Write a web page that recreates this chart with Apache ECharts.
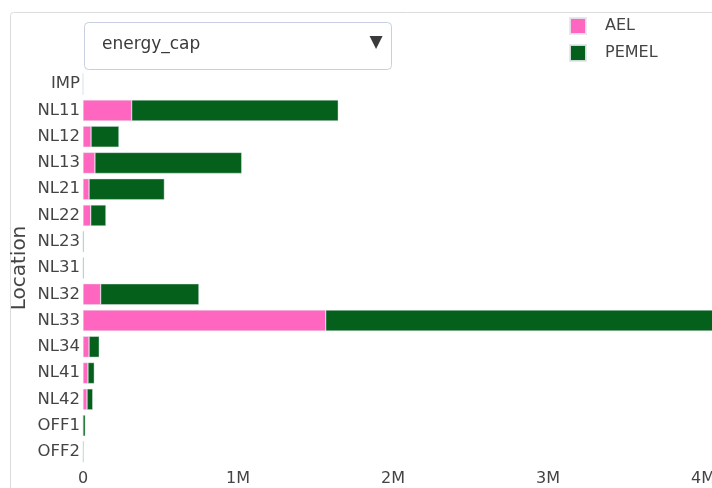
<!DOCTYPE html>
<html>
<head>
<meta charset="utf-8">
<script src="https://cdn.jsdelivr.net/npm/echarts@6/dist/echarts.min.js"></script>
<style>
  html, body { margin: 0; padding: 0; background: #fff; overflow: hidden; }
  #chart { width: 800px; height: 488px; }
</style>
</head>
<body>
<div id="chart"></div>
<script>
// Installed capacity per location, split by electrolyser technology
const locations = ['IMP', 'NL11', 'NL12', 'NL13', 'NL21', 'NL22', 'NL23', 'NL31',
                   'NL32', 'NL33', 'NL34', 'NL41', 'NL42', 'OFF1', 'OFF2'];
const aelCap   = [0, 314000, 52000, 77000, 39000, 50000, 0, 0,
                  114000, 1566000, 39000, 32000, 26000, 0, 0];
const pemelCap = [0, 1333000, 180000, 947000, 486000, 98000, 6000, 6000,
                  634000, 2840000, 66000, 41000, 37000, 15000, 5000];
const xTicks = [0, 1000000, 2000000, 3000000, 4000000];
const selectedVariable = 'energy_cap';

const FONT = '"DejaVu Sans", Verdana, sans-serif';
const TXT = '#444';

const chart = echarts.init(document.getElementById('chart'), null, { renderer: 'canvas' });

function fmtM(v) {
  if (v === 0) return '0';
  return (v / 1000000) + 'M';
}

chart.setOption({
  animation: false,
  backgroundColor: '#fff',
  textStyle: { fontFamily: FONT, color: TXT },
  grid: { left: 83, top: 71, width: 713, height: 394, containLabel: false, outerBoundsMode: 'none' },
  legend: {
    orient: 'vertical',
    left: 569,
    top: 17,
    padding: 0,
    itemWidth: 16,
    itemHeight: 16,
    itemGap: 9,
    icon: 'rect',
    textStyle: { fontFamily: FONT, fontSize: 16, color: TXT, padding: [0, 0, 0, 14] },
    data: ['AEL', 'PEMEL']
  },
  xAxis: {
    type: 'value',
    min: 0,
    max: 4600000,
    interval: 1000000,
    axisLine: { show: false },
    axisTick: { show: false },
    splitLine: { show: false },
    axisLabel: {
      fontFamily: FONT, fontSize: 16, color: TXT, margin: 6,
      showMaxLabel: false,
      formatter: function (v) { return xTicks.indexOf(v) >= 0 ? fmtM(v) : ''; }
    }
  },
  yAxis: {
    type: 'category',
    inverse: true,
    data: locations,
    name: 'Location',
    nameLocation: 'middle',
    nameRotate: 90,
    nameGap: 53,
    nameMoveOverlap: false,
    nameTextStyle: { fontFamily: FONT, fontSize: 20, color: TXT },
    axisLine: { show: false },
    axisTick: { show: false },
    splitLine: { show: false },
    axisLabel: { fontFamily: FONT, fontSize: 16.5, color: TXT, margin: 3 }
  },
  series: [
    {
      name: 'AEL', type: 'bar', stack: 'cap', data: aelCap,
      barCategoryGap: '20%',
      itemStyle: { color: '#ff66c0', borderColor: 'rgba(225,232,236,0.9)', borderWidth: 0.5 }
    },
    {
      name: 'PEMEL', type: 'bar', stack: 'cap', data: pemelCap,
      barCategoryGap: '20%',
      itemStyle: { color: '#04601b', borderColor: 'rgba(225,232,236,0.9)', borderWidth: 0.5 }
    }
  ],
  graphic: [
    {
      type: 'rect', silent: true, z: -1,
      shape: { x: 10.5, y: 12.5, width: 900, height: 600, r: 3 },
      style: { fill: 'none', stroke: '#dcdcdc', lineWidth: 1 }
    },
    {
      type: 'rect', silent: true,
      shape: { x: 84.5, y: 22.5, width: 307, height: 47, r: 4 },
      style: { fill: '#fff', stroke: '#c7cfe0', lineWidth: 1 }
    },
    {
      type: 'text', silent: true, x: 102, y: 45,
      style: { text: selectedVariable, fontFamily: FONT, fontSize: 17, fill: '#3a3a3a',
               verticalAlign: 'middle', align: 'left' }
    },
    {
      type: 'text', silent: true, x: 376, y: 43,
      style: { text: '▼', fontFamily: FONT, fontSize: 17, fill: '#3a3a3a',
               verticalAlign: 'middle', align: 'center' }
    }
  ]
});
</script>
</body>
</html>
